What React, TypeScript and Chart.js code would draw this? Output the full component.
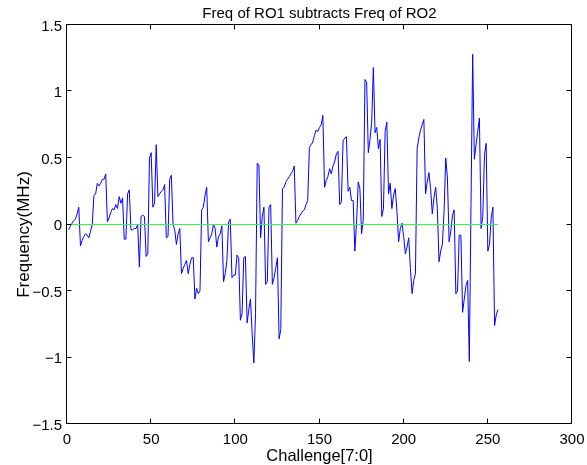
import React, { useEffect, useRef } from 'react';
import { Chart, registerables } from 'chart.js';

Chart.register(...registerables);

// Challenge index (x) for each measured difference
const challenge: number[] = Array.from({ length: 256 }, (_, k) => k + 1);

// Frequency difference RO1 - RO2 (MHz)
const freqDiff: number[] = [
  -0.04, -0.01, 0.01, 0.03, 0.04, 0.08, 0.13, -0.16, -0.12, -0.09,
  -0.07, -0.08, -0.10, -0.05, 0.0, 0.22, 0.23, 0.31, 0.29, 0.31,
  0.34, 0.34, 0.38, 0.02, 0.05, 0.09, 0.12, 0.11, 0.15, 0.12,
  0.21, 0.16, 0.20, -0.11, -0.11, 0.23, 0.26, -0.04, -0.04, -0.03,
  -0.03, 0.0, -0.32, 0.06, 0.07, 0.06, -0.24, -0.22, 0.50, 0.54,
  0.13, 0.16, 0.60, 0.21, 0.23, 0.25, 0.26, 0.30, -0.10, -0.09,
  0.34, 0.37, 0.0, -0.04, -0.15, -0.07, -0.03, -0.37, -0.33, -0.30,
  -0.27, -0.37, -0.30, -0.25, -0.25, -0.56, -0.48, -0.52, -0.50, 0.11,
  0.13, 0.22, 0.28, -0.13, -0.10, -0.07, 0.0, -0.03, -0.17, -0.09,
  -0.07, -0.01, -0.43, -0.37, -0.27, 0.02, 0.04, -0.40, -0.38, -0.38,
  -0.23, -0.25, -0.72, -0.67, -0.25, -0.24, -0.74, -0.64, -0.56, -0.82,
  -1.04, -0.67, 0.46, 0.45, -0.10, 0.06, 0.13, -0.45, -0.43, 0.13,
  0.15, -0.45, -0.40, -0.33, -0.25, -0.86, -0.79, 0.27, 0.28, 0.32,
  0.34, 0.36, 0.38, 0.40, 0.44, 0.01, 0.03, 0.06, 0.08, 0.10,
  0.11, 0.15, 0.18, 0.58, 0.60, 0.62, 0.67, 0.71, 0.70, 0.73,
  0.75, 0.82, 0.28, 0.33, 0.36, 0.42, 0.38, 0.44, 0.47, 0.53,
  0.55, 0.15, 0.17, 0.63, 0.65, 0.66, 0.25, 0.28, 0.18, 0.18,
  -0.20, 0.01, 0.32, 0.27, -0.07, 0.03, 1.09, 1.07, 0.54, 0.64,
  0.77, 1.18, 0.69, 0.73, 0.57, 0.64, 0.06, 0.12, 0.70, 0.77,
  0.23, 0.31, 0.12, 0.22, 0.27, 0.10, -0.13, -0.03, 0.01, -0.09,
  -0.22, -0.17, -0.10, -0.33, -0.52, -0.42, -0.37, 0.57, 0.65, 0.71,
  0.75, 0.79, 0.23, 0.32, 0.39, 0.27, 0.08, 0.20, 0.28, 0.12,
  -0.28, -0.20, -0.15, 0.10, 0.50, 0.35, -0.13, -0.05, 0.07, 0.11,
  -0.52, -0.50, -0.08, -0.08, -0.66, -0.56, -0.46, -0.42, -1.03, 0.15,
  1.28, 0.49, 0.60, 0.70, 0.80, -0.03, 0.06, 0.52, 0.61, -0.20,
  -0.15, 0.05, 0.13, -0.76, -0.68, -0.64,
];

// Zero reference line
const refX: number[] = [1, 256];
const refY: number[] = [0, 0];

// Axis ticks
const xTickValues: number[] = [0, 50, 100, 150, 200, 250, 300];
const xTickLabels: string[] = ['0', '50', '100', '150', '200', '250', '300'];
const yTickValues: number[] = [-1.5, -1, -0.5, 0, 0.5, 1, 1.5];
const yTickLabels: string[] = ['\u22121.5', '\u22121', '\u22120.5', '0', '0.5', '1', '1.5'];

const titleText = 'Freq of RO1 subtracts Freq of RO2';
const xLabelText = 'Challenge[7:0]';
const yLabelText = 'Frequency(MHz)';

const FONT = '"Liberation Sans", Arial, Helvetica, sans-serif';

const matlabAxesPlugin = {
  id: 'matlabAxes',
  afterDraw(chart: any) {
    const { ctx, chartArea } = chart;
    const xs = chart.scales.x;
    const ys = chart.scales.y;
    const L = Math.round(chartArea.left) - 0.5;
    const R = Math.round(chartArea.right) - 0.5;
    const T = Math.round(chartArea.top) - 0.5;
    const B = Math.round(chartArea.bottom) - 0.5;
    const tl = 5;
    ctx.save();
    ctx.strokeStyle = '#000';
    ctx.lineWidth = 1;
    ctx.beginPath();
    ctx.rect(L, T, R - L, B - T);
    ctx.stroke();

    ctx.beginPath();
    xTickValues.forEach((v) => {
      const px = Math.round(xs.getPixelForValue(v)) - 0.5;
      ctx.moveTo(px, B);
      ctx.lineTo(px, B - tl);
      ctx.moveTo(px, T);
      ctx.lineTo(px, T + tl);
    });
    yTickValues.forEach((v) => {
      const py = Math.round(ys.getPixelForValue(v)) - 0.5;
      ctx.moveTo(L, py);
      ctx.lineTo(L + tl, py);
      ctx.moveTo(R, py);
      ctx.lineTo(R - tl, py);
    });
    ctx.stroke();

    ctx.fillStyle = '#000';
    ctx.font = `15px ${FONT}`;
    ctx.textAlign = 'center';
    ctx.textBaseline = 'alphabetic';
    xTickValues.forEach((v, k) => {
      ctx.fillText(xTickLabels[k], xs.getPixelForValue(v), 443.5);
    });
    ctx.textAlign = 'right';
    ctx.textBaseline = 'middle';
    yTickValues.forEach((v, k) => {
      ctx.fillText(yTickLabels[k], 62, ys.getPixelForValue(v) + 1.5);
    });

    const cx = (chartArea.left + chartArea.right) / 2;
    ctx.textAlign = 'center';
    ctx.textBaseline = 'alphabetic';
    ctx.font = `15px ${FONT}`;
    ctx.fillText(titleText, cx, 18);
    ctx.font = `16.5px ${FONT}`;
    ctx.fillText(xLabelText, cx, 461);

    ctx.save();
    ctx.translate(29, (chartArea.top + chartArea.bottom) / 2 + 10);
    ctx.rotate(-Math.PI / 2);
    ctx.font = `17px ${FONT}`;
    ctx.textAlign = 'center';
    ctx.textBaseline = 'alphabetic';
    ctx.fillText(yLabelText, 0, 0);
    ctx.restore();

    ctx.restore();
  },
};

export default function App() {
  const canvasRef = useRef<HTMLCanvasElement | null>(null);

  useEffect(() => {
    const canvas = canvasRef.current;
    if (!canvas) return;
    const chart = new Chart(canvas, {
      type: 'line',
      data: {
        datasets: [
          {
            label: 'zero',
            data: refX.map((x, k) => ({ x, y: refY[k] })),
            borderColor: 'rgb(50,255,50)',
            borderWidth: 1,
            pointRadius: 0,
            fill: false,
          },
          {
            label: 'diff',
            data: challenge.map((x, k) => ({ x, y: freqDiff[k] })),
            borderColor: 'rgb(0,0,255)',
            borderWidth: 1,
            pointRadius: 0,
            fill: false,
          },
        ],
      },
      options: {
        responsive: false,
        animation: false,
        devicePixelRatio: 1,
        events: [],
        layout: { padding: { left: 67, right: 15, top: 25, bottom: 41 } },
        elements: { line: { tension: 0 } },
        scales: {
          x: { type: 'linear', min: 0, max: 300, display: false },
          y: { type: 'linear', min: -1.5, max: 1.5, display: false },
        },
        plugins: {
          legend: { display: false },
          tooltip: { enabled: false },
          title: { display: false },
        },
      },
      plugins: [matlabAxesPlugin],
    });
    return () => chart.destroy();
  }, []);

  return (
    <div style={{ position: 'absolute', left: 0, top: 0, width: 587, height: 465, background: '#fff' }}>
      <canvas ref={canvasRef} width={587} height={465} />
    </div>
  );
}
